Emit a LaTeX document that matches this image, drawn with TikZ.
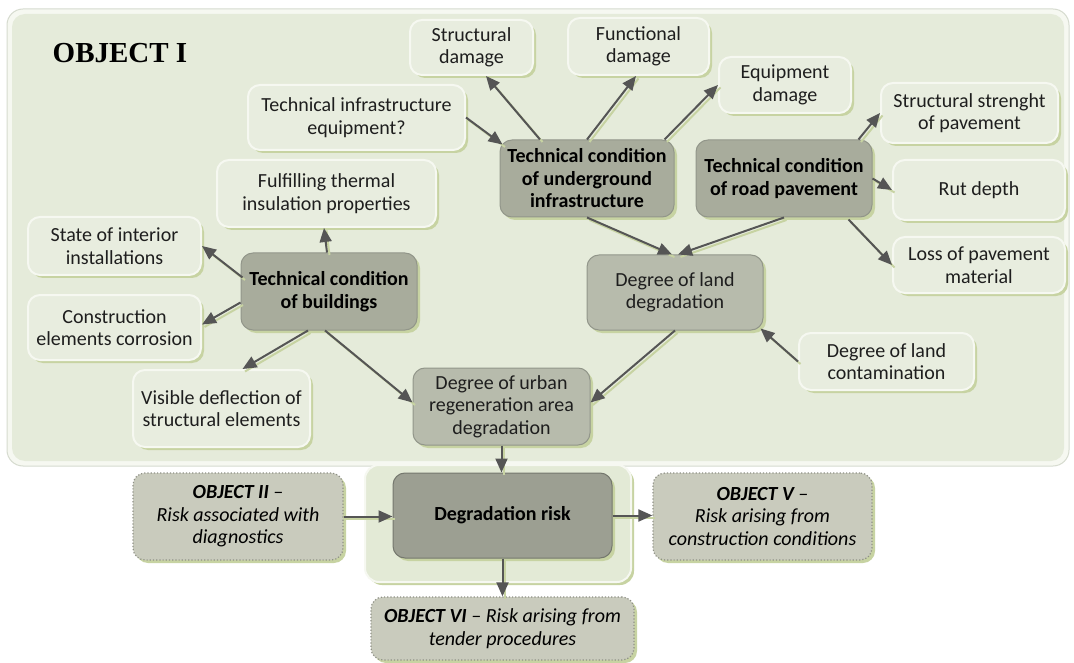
\documentclass[tikz,border=0pt]{standalone}
\usepackage{fontspec}
\setmainfont{Carlito}
\newfontfamily\titlefont{Liberation Serif}
\usetikzlibrary{arrows.meta,shadows,calc}
\definecolor{bgc}{HTML}{E5EBDA}
\definecolor{lightc}{HTML}{E8EDDF}
\definecolor{rimc}{HTML}{F6F8F1}
\definecolor{framec}{HTML}{D6DBCF}
\definecolor{shadc}{HTML}{C7D3A2}
\definecolor{darkc}{HTML}{A8AC9C}
\definecolor{darkedge}{HTML}{92968A}
\definecolor{midc}{HTML}{B7BBAC}
\definecolor{riskc}{HTML}{9C9F92}
\definecolor{riskbgc}{HTML}{E3EAD6}
\definecolor{objc}{HTML}{C9CBBD}
\definecolor{objedge}{HTML}{8F9186}
\definecolor{arrc}{HTML}{555555}
\definecolor{txtc}{HTML}{1E1E1E}
\begin{document}
\begin{tikzpicture}[x=1pt,y=-1pt,
  sz/.style 2 args={minimum width=#1pt,minimum height=#2pt},
  base/.style={rounded corners=12pt,align=center,inner sep=2pt,
    font=\fontsize{20}{22.5}\selectfont,text=txtc},
  nshadow/.style={drop shadow={shadow xshift=3pt,shadow yshift=-3pt,fill=shadc,opacity=1}},
  light/.style={base,fill=lightc,draw=rimc,line width=2pt,nshadow},
  dark/.style={base,fill=darkc,draw=darkedge,line width=1pt,nshadow,
    font=\bfseries\fontsize{20}{22.5}\selectfont,text=black},
  mid/.style={base,fill=midc,draw=darkedge,line width=1pt,nshadow},
  riskbox/.style={base,fill=riskc,draw=darkedge!80!black,line width=1pt,nshadow,
    font=\bfseries\fontsize{20}{22.5}\selectfont,text=black},
  objbox/.style={base,fill=objc,draw=objedge,dotted,line width=1.2pt,nshadow,
    font=\itshape\fontsize{20}{22.5}\selectfont,text=black},
  arr/.style={draw=arrc,line width=2pt,-{Triangle[length=14pt,width=12pt]},
    preaction={draw=shadc,line width=2pt,-,transform canvas={shift={(2.5pt,-2.5pt)}}}}
]
\useasboundingbox (0,0) rectangle (1074,663);
\fill[white] (0,0) rectangle (1074,663);

% frame of OBJECT I
\node[draw=framec,fill=rimc,line width=1pt,rounded corners=16pt,sz={1062}{457}] (frameout) at (538,237.5) {};
\node[fill=bgc,rounded corners=13pt,sz={1052}{447},inner sep=0pt] (frame) at (538,237.5) {};
\node[font=\titlefont\bfseries\fontsize{29}{32}\selectfont,text=black] (title) at (120,53) {OBJECT I};

% backdrop of degradation risk
\node[fill=riskbgc,draw=rimc,line width=2pt,rounded corners=14pt,sz={266}{117},nshadow] (riskbg) at (498,523.5) {};

% nodes
\node[light,sz={123}{55}] (struct) at (471.5,47.5) {Structural\\damage};
\node[light,sz={141}{57}] (func) at (638.5,46.5) {Functional\\damage};
\node[light,sz={132}{56}] (equip) at (785,85) {Equipment\\damage};
\node[light,sz={177}{60}] (strength) at (969.5,113) {Structural strenght\\of pavement};
\node[light,sz={172}{60}] (rut) at (979,190) {Rut depth};
\node[light,sz={172}{56}] (loss) at (979,265) {Loss of pavement\\material};
\node[dark,sz={176}{77}] (road) at (784,178.5) {Technical condition\\of road pavement};
\node[dark,sz={174}{77}] (under) at (587,178.5) {Technical condition\\of underground\\infrastructure};
\node[mid,sz={176}{75}] (landdeg) at (675,292.5) {Degree of land\\degradation};
\node[light,sz={175}{57}] (contam) at (886.5,361.5) {Degree of land\\contamination};
\node[mid,sz={177}{77}] (urban) at (501.5,406.5) {Degree of urban\\regeneration area\\degradation};
\node[light,sz={217}{65}] (techinfra) at (356.5,117.5) {Technical infrastructure\\equipment?};
\node[light,sz={219}{67}] (thermal) at (326.5,193.5) {Fulfilling thermal\\insulation properties};
\node[light,sz={173}{58}] (interior) at (114.5,246) {State of interior\\installations};
\node[dark,sz={176}{77}] (buildings) at (329,291.5) {Technical condition\\of buildings};
\node[light,sz={173}{65}] (corrosion) at (114.5,327.5) {Construction\\elements corrosion};
\node[light,sz={177}{77}] (deflection) at (221.5,408.5) {Visible deflection of\\structural elements};
\node[riskbox,sz={219}{85}] (risk) at (502.5,515.5) {Degradation risk};
\node[objbox,sz={210}{87}] (obj2) at (238,516.5) {\textbf{OBJECT II} --\\Risk associated with\\diagnostics};
\node[objbox,sz={219}{87}] (obj5) at (762.5,516.5) {\textbf{OBJECT V} --\\Risk arising from\\construction conditions};
\node[objbox,sz={263}{63}] (obj6) at (502.5,628.5) {\textbf{OBJECT VI} -- Risk arising from\\tender procedures};

% connectors
\draw[arr] (techinfra.east) -- ($(under.north west)+(3,5)$);
\draw[arr] ($(under.north)+(-47,0)$) -- ($(struct.south)+(14.5,0)$);
\draw[arr] (under.north) -- ($(func.south)+(-2.5,0)$);
\draw[arr] ($(under.north east)+(-10,0)$) -- (equip.west);
\draw[arr] (under.south) -- ($(landdeg.north)+(-3,0)$);
\draw[arr] (road.south) -- ($(landdeg.north)+(3,0)$);
\draw[arr] ($(road.north east)+(-14,0)$) -- (strength.west);
\draw[arr] (road.east) -- (rut.west);
\draw[arr] ($(road.south east)+(-24,2)$) -- (loss.west);
\draw[arr] (contam.west) -- ($(landdeg.south east)+(-3,-2)$);
\draw[arr] (landdeg.south) -- ($(urban.east)+(0,-4)$);
\draw[arr] ($(buildings.south)+(-4,0)$) -- ($(urban.west)+(0,-4)$);
\draw[arr] ($(buildings.north)+(-2,0)$) -- ($(thermal.south)+(-2.5,0)$);
\draw[arr] ($(buildings.west)+(2,-14)$) -- (interior.east);
\draw[arr] ($(buildings.west)+(0,11)$) -- ($(corrosion.east)+(0,-3)$);
\draw[arr] ($(buildings.south)+(-21,0)$) -- ($(deflection.north)+(21,0)$);
\draw[arr] (urban.south) -- (urban.south |- risk.north);
\draw[arr] (obj2.east) -- (obj2.east -| risk.west);
\draw[arr] (risk.east) -- (risk.east -| obj5.west);
\draw[arr] (risk.south) -- (risk.south |- obj6.north);
\end{tikzpicture}
\end{document}
